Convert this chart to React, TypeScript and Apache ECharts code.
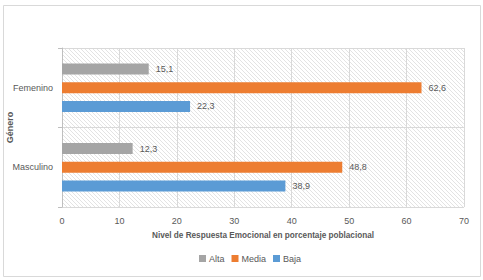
import React, { useEffect, useRef } from "react";
import * as echarts from "echarts";

const categories = ["Masculino", "Femenino"];
const seriesNames = ["Alta", "Media", "Baja"];
const alta = [12.3, 15.1];
const media = [48.8, 62.6];
const baja = [38.9, 22.3];
const xTicks = { min: 0, max: 70, interval: 10 };
const colors = ["#A5A5A5", "#ED7D31", "#5B9BD5"];

function makeHatch(): string {
  const c = document.createElement("canvas");
  c.width = 4;
  c.height = 4;
  const ctx = c.getContext("2d")!;
  ctx.fillStyle = "#ffffff";
  ctx.fillRect(0, 0, 4, 4);
  ctx.fillStyle = "#e3e3e3";
  for (let i = 0; i < 4; i++) ctx.fillRect(i, i, 1, 1);
  return c.toDataURL();
}

const FONT = "Liberation Sans";

export default function App() {
  const ref = useRef<HTMLDivElement>(null);
  useEffect(() => {
    document.body.style.margin = "0";
    const chart = echarts.init(ref.current!, null, { renderer: "svg" });
    const hatch = { image: makeHatch(), repeat: "repeat" } as any;
    const label = {
      show: true,
      position: "right",
      distance: 7,
      color: "#595959",
      fontSize: 9,
      fontFamily: FONT,
      formatter: (p: any) => String(p.value).replace(".", ","),
    };
    const data = [alta, media, baja];
    chart.setOption({
      animation: false,
      backgroundColor: "#ffffff",
      textStyle: { fontFamily: FONT },
      graphic: [
        {
          type: "rect",
          shape: { x: 3.5, y: 5.5, width: 477, height: 271 },
          style: { fill: "none", stroke: "#d9d9d9", lineWidth: 1 },
          silent: true,
        },
      ],
      grid: {
        left: 62,
        right: 19,
        top: 48,
        bottom: 73,
        show: true,
        backgroundColor: hatch,
        borderWidth: 0,
        containLabel: false,
        outerBoundsMode: "none",
      },
      legend: {
        data: seriesNames,
        bottom: 12,
        left: 194,
        itemWidth: 7,
        itemHeight: 7,
        itemGap: 7,
        icon: "rect",
        textStyle: { fontSize: 9, color: "#595959", fontFamily: FONT, padding: [0, 0, 0, -2] },
      },
      xAxis: {
        type: "value",
        min: xTicks.min,
        max: xTicks.max,
        interval: xTicks.interval,
        axisLine: { show: false },
        axisTick: { show: false },
        axisLabel: { color: "#595959", fontSize: 9, margin: 9, fontFamily: FONT },
        splitLine: { show: true, lineStyle: { color: "#d9d9d9" } },
        name: "Nivel de Respuesta Emocional en porcentaje poblacional",
        nameLocation: "middle",
        nameGap: 24,
        nameMoveOverlap: false,
        nameTextStyle: { fontSize: 8.2, fontWeight: "bold", color: "#595959", fontFamily: FONT },
      },
      yAxis: {
        type: "category",
        data: categories,
        axisLine: { show: true, lineStyle: { color: "#bfbfbf" } },
        axisTick: { show: true, length: 4, lineStyle: { color: "#bfbfbf" } },
        axisLabel: { color: "#595959", fontSize: 9, margin: 9, fontFamily: FONT },
        splitLine: { show: true, lineStyle: { color: "#d9d9d9" } },
        name: "Género",
        nameLocation: "middle",
        nameRotate: 90,
        nameGap: 48,
        nameMoveOverlap: false,
        nameTextStyle: { fontSize: 9, fontWeight: "bold", color: "#595959", fontFamily: FONT },
      },
      series: [0, 1, 2].map((i) => ({
        name: seriesNames[i],
        type: "bar",
        data: data[i],
        barWidth: 11,
        barGap: "70%",
        itemStyle: { color: colors[i] },
        label,
      })),
    });
    return () => chart.dispose();
  }, []);
  return <div ref={ref} style={{ position: "fixed", left: 0, top: 0, width: 483, height: 280 }} />;
}
